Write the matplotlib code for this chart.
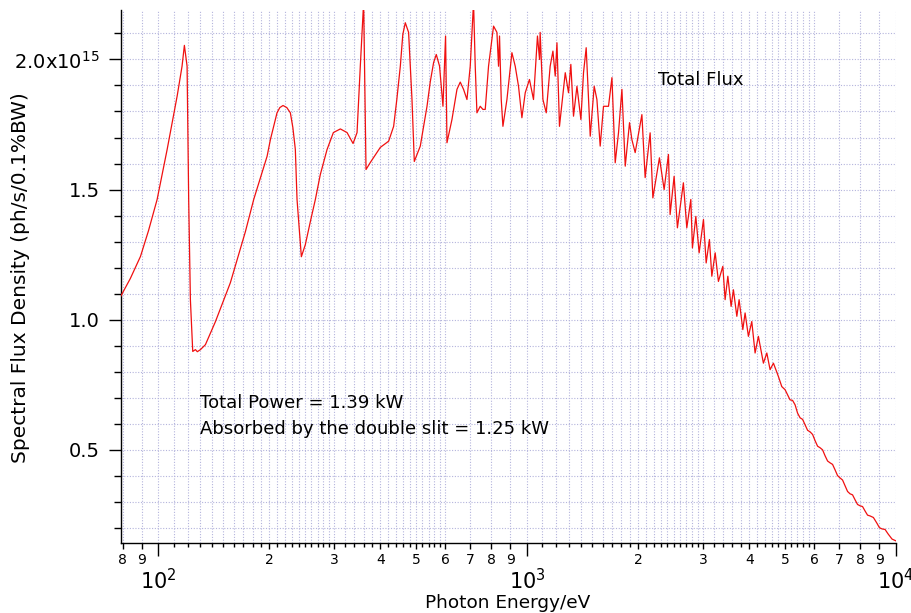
import matplotlib
matplotlib.use("Agg")
import matplotlib.pyplot as plt

# photon energy in eV
energy = [78.9, 83.9, 89.4, 94.0, 99.2, 102.5, 105.6, 109.1, 112.4, 115.9,
          117.6, 119.6, 120.8, 122.1, 123.9, 126.0, 127.5, 130.0, 134.1, 142.7,
          156.7, 172.1, 181.3, 197.1, 201.2, 209.7, 213.4, 217.7, 222.9, 227.9,
          231.5, 235.1, 237.6, 244.1, 250.2, 258.2, 266.4, 274.8, 286.6, 298.1,
          311.4, 324.7, 337.1, 345.6, 352.7, 360.1, 365.5, 375.4, 399.6, 421.0,
          434.3, 443.0, 452.8, 459.9, 467.1, 476.8, 487.0, 494.1, 512.9, 534.9,
          546.0, 557.4, 566.8, 578.5, 590.9, 600.6, 605.9, 625.0, 644.9, 658.3,
          672.0, 686.4, 700.6, 715.2, 722.8, 730.5, 745.7, 758.3, 769.4, 785.4,
          810.4, 827.7, 836.0, 841.2, 850.2, 859.2, 881.0, 908.8, 927.8, 947.1,
          967.3, 987.6, 1014, 1040, 1066, 1080, 1084, 1103, 1126, 1154,
          1174, 1191, 1204, 1223, 1268, 1294, 1313, 1335, 1364, 1398,
          1421, 1445, 1482, 1519, 1545, 1577, 1610, 1661, 1697, 1732,
          1768, 1806, 1844, 1894, 1922, 1962, 2046, 2088, 2154, 2191,
          2283, 2351, 2415, 2440, 2502, 2554, 2651, 2708, 2777, 2805,
          2865, 2925, 3005, 3056, 3119, 3166, 3233, 3299, 3391, 3440,
          3499, 3571, 3623, 3701, 3754, 3842, 3897, 3978, 4063, 4148,
          4234, 4369, 4463, 4555, 4651, 4797, 4900, 5002, 5160, 5241,
          5324, 5408, 5493, 5580, 5668, 5757, 5848, 5940, 6033, 6127,
          6223, 6321, 6421, 6522, 6624, 6728, 6834, 6941, 7050, 7161,
          7274, 7388, 7504, 7622, 7742, 7864, 7987, 8113, 8241, 8371,
          8502, 8682, 8866, 9014, 9165, 9338, 9514, 9754, 10000]

# total spectral flux density, units of 1e15 ph/s/0.1%BW
flux = [1.088, 1.158, 1.243, 1.342, 1.462, 1.562, 1.654, 1.762, 1.859, 1.974,
        2.054, 1.974, 1.462, 1.077, 0.878, 0.885, 0.877, 0.885, 0.904, 0.992,
        1.142, 1.338, 1.462, 1.628, 1.692, 1.795, 1.815, 1.823, 1.815, 1.795,
        1.738, 1.654, 1.462, 1.242, 1.288, 1.377, 1.462, 1.558, 1.654, 1.719,
        1.733, 1.719, 1.677, 1.719, 1.974, 2.22, 1.577, 1.604, 1.662, 1.686,
        1.743, 1.846, 1.974, 2.096, 2.141, 2.104, 1.846, 1.608, 1.667, 1.820,
        1.915, 1.988, 2.019, 1.974, 1.820, 2.090, 1.680, 1.769, 1.885, 1.913,
        1.885, 1.846, 1.974, 2.22, 1.974, 1.795, 1.820, 1.808, 1.808, 1.974,
        2.128, 2.104, 1.974, 2.090, 1.846, 1.743, 1.846, 2.026, 1.974, 1.897,
        1.776, 1.872, 1.923, 1.846, 2.090, 2.000, 2.104, 1.846, 1.795, 1.974,
        2.032, 1.936, 2.064, 1.743, 1.949, 1.872, 1.981, 1.782, 1.897, 1.769,
        1.949, 2.045, 1.705, 1.897, 1.846, 1.667, 1.820, 1.820, 1.930, 1.603,
        1.718, 1.885, 1.590, 1.757, 1.692, 1.642, 1.788, 1.546, 1.718, 1.468,
        1.622, 1.500, 1.635, 1.404, 1.551, 1.353, 1.526, 1.353, 1.462, 1.276,
        1.397, 1.257, 1.385, 1.218, 1.308, 1.167, 1.257, 1.147, 1.205, 1.077,
        1.167, 1.051, 1.115, 1.013, 1.077, 0.962, 1.026, 0.936, 0.993, 0.872,
        0.936, 0.833, 0.872, 0.808, 0.833, 0.782, 0.743, 0.731, 0.692, 0.690,
        0.673, 0.641, 0.623, 0.617, 0.596, 0.575, 0.569, 0.559, 0.535, 0.514,
        0.508, 0.500, 0.477, 0.457, 0.450, 0.444, 0.423, 0.401, 0.392, 0.384,
        0.362, 0.340, 0.331, 0.327, 0.308, 0.290, 0.285, 0.282, 0.265, 0.249,
        0.246, 0.240, 0.219, 0.201, 0.196, 0.194, 0.177, 0.157, 0.150]

# x ticks: decades, labelled digits, and plain small ticks
decades = [100, 1000, 10000]
decade_labels = ["$10^{2}$", "$10^{3}$", "$10^{4}$"]
digit_ticks = [80, 90, 200, 300, 400, 500, 600, 700, 800, 900,
               2000, 3000, 4000, 5000, 6000, 7000, 8000, 9000]
digit_labels = ["8", "9", "2", "3", "4", "5", "6", "7", "8", "9",
                "2", "3", "4", "5", "6", "7", "8", "9"]
small_ticks = [110, 120, 130, 140, 150, 160, 170, 180, 190,
               210, 220, 230, 240, 250, 260, 270, 280, 290,
               320, 340, 360, 380, 420, 440, 460, 480, 520, 540, 560, 580,
               1100, 1200, 1300, 1400, 1500, 1600, 1700, 1800, 1900,
               2100, 2200, 2300, 2400, 2500, 2600, 2700, 2800, 2900,
               3200, 3400, 3600, 3800, 4200, 4400, 4600, 4800,
               5200, 5400, 5600, 5800]

y_major = [0.5, 1.0, 1.5, 2.0]
y_major_labels = ["0.5", "1.0", "1.5", "2.0x10$^{15}$"]
y_minor = [0.2, 0.3, 0.4, 0.6, 0.7, 0.8, 0.9, 1.1, 1.2, 1.3, 1.4,
           1.6, 1.7, 1.8, 1.9, 2.1]

grid_color = "#b4b4dc"

fig = plt.figure(figsize=(9.12, 6.13), dpi=100)
ax = fig.add_axes([0.1323, 0.1142, 0.8502, 0.8695])

for xv in decades + digit_ticks + small_ticks:
    ax.axvline(xv, color=grid_color, lw=0.8, ls=(0, (1, 1.5)), zorder=0)
for yv in y_major + y_minor:
    ax.axhline(yv, color=grid_color, lw=0.8, ls=(0, (1, 1.5)), zorder=0)

ax.plot(energy, flux, color="#f01010", lw=0.9, zorder=3)

ax.set_xscale("log")
ax.set_xlim(79, 10000)
ax.set_ylim(0.142, 2.19)

for side in ("top", "right"):
    ax.spines[side].set_visible(False)
ax.spines["left"].set_linewidth(1.0)
ax.spines["bottom"].set_linewidth(1.0)

ax.set_xticks(decades)
ax.set_xticklabels(decade_labels, fontsize=15)
ax.set_xticks(digit_ticks, minor=True)
ax.set_xticklabels(digit_labels, minor=True, fontsize=10)
ax.tick_params(axis="x", which="major", direction="out", length=9, width=1, pad=9)
ax.tick_params(axis="x", which="minor", direction="out", length=4.3, width=1, pad=3)

# unlabelled small ticks between the digits
sec = ax.secondary_xaxis("bottom")
sec.set_xticks(small_ticks)
sec.set_xticks([], minor=True)
sec.tick_params(axis="x", which="major", direction="out", length=3, width=1,
                labelbottom=False)
sec.spines["bottom"].set_visible(False)

ax.set_yticks(y_major)
ax.set_yticklabels(y_major_labels, fontsize=14)
ax.set_yticks(y_minor, minor=True)
ax.tick_params(axis="y", which="major", direction="out", length=9, width=1, pad=6)
ax.tick_params(axis="y", which="minor", direction="out", length=5, width=1)

fig.text(0.5570, 0.0160, "Photon Energy/eV", fontsize=13.3, ha="center", va="center")
fig.text(0.0220, 0.5465, "Spectral Flux Density (ph/s/0.1%BW)", fontsize=14.5,
         rotation=90, ha="center", va="center")

fig.text(0.2193, 0.3344, "Total Power = 1.39 kW", fontsize=13, va="baseline")
fig.text(0.2193, 0.2920, "Absorbed by the double slit = 1.25 kW", fontsize=13,
         va="baseline")
fig.text(0.7215, 0.8613, "Total Flux", fontsize=13, va="baseline")

fig.savefig("out.png", dpi=100)
